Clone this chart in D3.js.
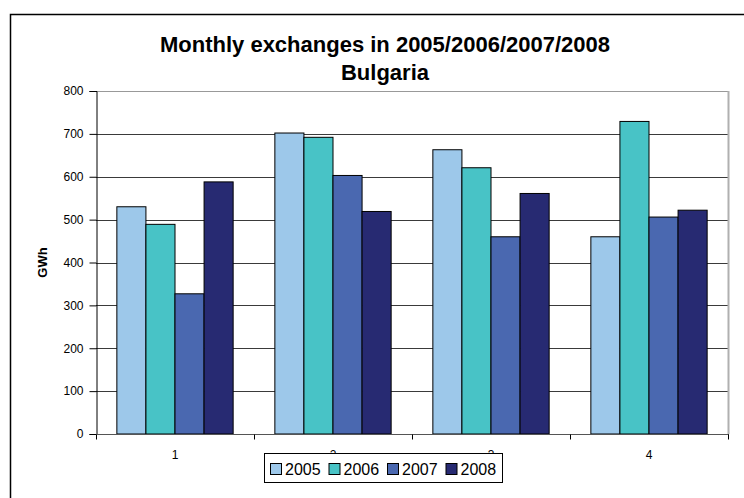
<!DOCTYPE html>
<html>
<head>
<meta charset="utf-8">
<script src="https://cdn.jsdelivr.net/npm/d3@7"></script>
<style>
  html, body { margin: 0; padding: 0; background: #fff; }
  svg { display: block; font-family: "Liberation Sans", Arial, sans-serif; }
</style>
</head>
<body>
<svg id="chart" width="744" height="498"></svg>
<script>
const categories = ["1", "2", "3", "4"];
const seriesNames = ["2005", "2006", "2007", "2008"];
const values2005 = [530, 702, 663, 460];
const values2006 = [489, 692, 621, 729];
const values2007 = [327, 603, 460, 506];
const values2008 = [588, 519, 561, 522];
const yTicks = [0, 100, 200, 300, 400, 500, 600, 700, 800];
const colors = ["#9DC8EA", "#48C3C6", "#4A68B0", "#272A72"];
const titleLines = ["Monthly exchanges in 2005/2006/2007/2008", "Bulgaria"];
const yAxisTitle = "GWh";

const seriesValues = [values2005, values2006, values2007, values2008];

const svg = d3.select("#chart");

// outer chart frame
svg.append("rect")
  .attr("x", 10.5).attr("y", 14.5)
  .attr("width", 760).attr("height", 520)
  .attr("fill", "#fff").attr("stroke", "#000").attr("stroke-width", 1.5);

const plot = { left: 96, right: 728, top: 91, bottom: 434 };

const x0 = d3.scaleBand().domain(categories).range([plot.left, plot.right]).padding(0);
const x1 = d3.scaleBand().domain(seriesNames)
  .range([x0.bandwidth() * 0.132, x0.bandwidth() * 0.868]).padding(0);
const y = d3.scaleLinear().domain([0, 800]).range([plot.bottom, plot.top]);

// gridlines
svg.append("g")
  .selectAll("line")
  .data(yTicks.filter(d => d > 0))
  .join("line")
  .attr("x1", plot.left).attr("x2", plot.right)
  .attr("y1", d => Math.round(y(d)) + 0.5).attr("y2", d => Math.round(y(d)) + 0.5)
  .attr("stroke", d => d === 800 ? "#999" : "#3a3a3a")
  .attr("stroke-width", 1);

// right border of plot area
svg.append("line")
  .attr("x1", plot.right + 0.5).attr("x2", plot.right + 0.5)
  .attr("y1", plot.top).attr("y2", plot.bottom)
  .attr("stroke", "#b0b0b0").attr("stroke-width", 2);

// bars
const groups = svg.append("g").selectAll("g")
  .data(categories)
  .join("g")
  .attr("transform", d => `translate(${x0(d)},0)`);

groups.selectAll("rect")
  .data((c, i) => seriesNames.map((s, j) => ({ s, j, v: seriesValues[j][i] })))
  .join("rect")
  .attr("x", d => x1(d.s))
  .attr("y", d => y(d.v))
  .attr("width", x1.bandwidth())
  .attr("height", d => y(0) - y(d.v))
  .attr("fill", d => colors[d.j])
  .attr("stroke", "#000")
  .attr("stroke-width", 1);

// y axis
const yAxis = d3.axisLeft(y).tickValues(yTicks).tickSize(7).tickPadding(6).tickFormat(d3.format("d"));
const gy = svg.append("g").attr("transform", `translate(${plot.left + 0.5},0)`).call(yAxis);
gy.select(".domain").attr("stroke", "#000");
gy.selectAll(".tick line").attr("stroke", "#000");
gy.selectAll(".tick text").attr("font-size", 12).attr("fill", "#000")
  .attr("font-family", "Liberation Sans, Arial, sans-serif");

// x axis
const xAxis = d3.axisBottom(x0).tickSize(0).tickPadding(16);
const gx = svg.append("g").attr("transform", `translate(0,${plot.bottom + 0.5})`).call(xAxis);
gx.select(".domain").remove();
gx.append("line").attr("x1", plot.left).attr("x2", plot.right + 1).attr("y1", 0).attr("y2", 0)
  .attr("stroke", "#555");
gx.selectAll(".tick text").attr("font-size", 12).attr("fill", "#000")
  .attr("font-family", "Liberation Sans, Arial, sans-serif");
// category boundary ticks
const boundaries = categories.map(c => x0(c)).concat([x0.range()[1]]);
gx.selectAll(".bnd").data(boundaries).join("line").attr("class", "bnd")
  .attr("x1", d => Math.round(d) + 0.5).attr("x2", d => Math.round(d) + 0.5)
  .attr("y1", 0).attr("y2", 5).attr("stroke", "#000");

// y axis title
svg.append("text")
  .attr("transform", `translate(47,${(plot.top + plot.bottom) / 2}) rotate(-90)`)
  .attr("text-anchor", "middle")
  .attr("font-size", 13).attr("font-weight", "bold")
  .text(yAxisTitle);

// title
svg.append("g").selectAll("text").data(titleLines).join("text")
  .attr("x", 385).attr("y", (d, i) => 52 + i * 28)
  .attr("text-anchor", "middle")
  .attr("font-size", 22).attr("font-weight", "bold")
  .text(d => d);

// legend
const legend = svg.append("g").attr("transform", "translate(264,453)");
legend.append("rect").attr("x", 0.5).attr("y", 0.5).attr("width", 238).attr("height", 29)
  .attr("fill", "#fff").attr("stroke", "#000");
const items = legend.selectAll(".item").data(seriesNames).join("g")
  .attr("class", "item")
  .attr("transform", (d, i) => `translate(${6 + i * 58.5},0)`);
items.append("rect").attr("x", 0.5).attr("y", 10.5).attr("width", 11).attr("height", 11)
  .attr("fill", (d, i) => colors[i]).attr("stroke", "#000");
items.append("text").attr("x", 15).attr("y", 22)
  .attr("font-size", 16).text(d => d);
</script>
</body>
</html>
